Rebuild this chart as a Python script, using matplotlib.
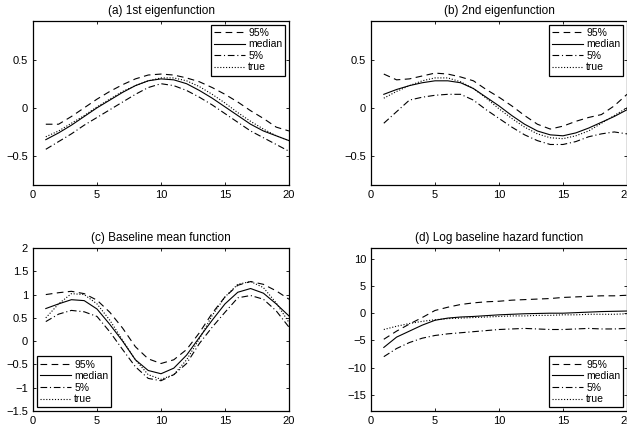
"""Posterior summaries (95%, median, 5%) versus truth for four functions."""

import matplotlib

matplotlib.use("Agg")
import matplotlib.pyplot as plt
import numpy as np
from matplotlib.ticker import FuncFormatter

plt.rcParams["font.family"] = ["Liberation Sans", "DejaVu Sans"]

x = np.arange(1, 21)

# (a) 1st eigenfunction
a_q95 = [-0.17, -0.17, -0.09, 0.00, 0.09, 0.17, 0.24, 0.30, 0.34, 0.35,
         0.34, 0.31, 0.27, 0.21, 0.14, 0.06, -0.03, -0.11, -0.20, -0.24]
a_med = [-0.33, -0.26, -0.18, -0.09, 0.00, 0.08, 0.16, 0.23, 0.28, 0.30,
         0.29, 0.25, 0.18, 0.10, 0.01, -0.08, -0.17, -0.24, -0.29, -0.34]
a_q05 = [-0.43, -0.35, -0.27, -0.18, -0.10, -0.02, 0.06, 0.14, 0.21, 0.25,
         0.23, 0.18, 0.11, 0.03, -0.06, -0.15, -0.24, -0.31, -0.38, -0.45]
a_true = [-0.30, -0.24, -0.16, -0.08, 0.01, 0.09, 0.17, 0.23, 0.28, 0.31,
          0.31, 0.28, 0.22, 0.14, 0.05, -0.05, -0.14, -0.22, -0.29, -0.34]

# (b) 2nd eigenfunction
b_q95 = [0.35, 0.29, 0.30, 0.33, 0.36, 0.35, 0.32, 0.28, 0.19, 0.11,
         0.02, -0.08, -0.17, -0.22, -0.19, -0.14, -0.10, -0.07, 0.02, 0.14]
b_med = [0.14, 0.19, 0.23, 0.26, 0.28, 0.28, 0.26, 0.20, 0.11, 0.02,
         -0.08, -0.17, -0.24, -0.28, -0.29, -0.26, -0.21, -0.15, -0.09, -0.02]
b_q05 = [-0.16, -0.04, 0.08, 0.11, 0.13, 0.14, 0.14, 0.08, -0.02, -0.11,
         -0.20, -0.28, -0.34, -0.38, -0.38, -0.35, -0.30, -0.27, -0.25, -0.27]
b_true = [0.10, 0.17, 0.23, 0.28, 0.31, 0.31, 0.27, 0.20, 0.10, -0.01,
          -0.11, -0.20, -0.27, -0.31, -0.32, -0.29, -0.24, -0.16, -0.08, 0.00]

# (c) Baseline mean function
c_q95 = [1.00, 1.04, 1.07, 1.02, 0.88, 0.62, 0.28, -0.12, -0.38, -0.48,
         -0.40, -0.18, 0.18, 0.60, 0.95, 1.20, 1.28, 1.22, 1.08, 0.90]
c_med = [0.70, 0.80, 0.89, 0.87, 0.69, 0.36, 0.00, -0.40, -0.63, -0.70,
         -0.58, -0.30, 0.08, 0.45, 0.80, 1.05, 1.13, 1.03, 0.80, 0.54]
c_q05 = [0.42, 0.58, 0.66, 0.63, 0.53, 0.20, -0.18, -0.55, -0.80, -0.85,
         -0.72, -0.48, -0.05, 0.30, 0.62, 0.93, 0.98, 0.90, 0.65, 0.30]
c_true = [0.50, 0.80, 1.02, 1.00, 0.80, 0.45, 0.02, -0.40, -0.72, -0.82,
          -0.72, -0.40, 0.05, 0.55, 0.95, 1.22, 1.28, 1.15, 0.82, 0.40]

# (d) Log baseline hazard function
d_q95 = [-4.8, -3.3, -2.0, -0.8, 0.5, 1.1, 1.6, 1.9, 2.1, 2.2,
         2.4, 2.5, 2.6, 2.7, 2.9, 3.0, 3.1, 3.2, 3.2, 3.3]
d_med = [-6.3, -4.4, -3.3, -2.2, -1.3, -0.9, -0.7, -0.6, -0.45, -0.3,
         -0.2, -0.1, -0.05, 0.0, 0.0, 0.1, 0.2, 0.3, 0.35, 0.4]
d_q05 = [-8.0, -6.5, -5.4, -4.6, -4.1, -3.8, -3.6, -3.4, -3.2, -3.0,
         -2.9, -2.8, -2.9, -3.0, -3.0, -2.9, -2.8, -2.9, -2.9, -2.8]
d_true = [-3.0, -2.4, -1.9, -1.5, -1.2, -1.0, -0.9, -0.8, -0.7, -0.6,
          -0.5, -0.5, -0.4, -0.4, -0.3, -0.3, -0.2, -0.2, -0.2, -0.1]

titles = [
    "(a) 1st eigenfunction",
    "(b) 2nd eigenfunction",
    "(c) Baseline mean function",
    "(d) Log baseline hazard function",
]
panels = [
    (a_q95, a_med, a_q05, a_true),
    (b_q95, b_med, b_q05, b_true),
    (c_q95, c_med, c_q05, c_true),
    (d_q95, d_med, d_q05, d_true),
]
ylims = [(-0.8, 0.9), (-0.8, 0.9), (-1.5, 2.0), (-18, 12)]
yticks = [
    [-0.5, 0, 0.5],
    [-0.5, 0, 0.5],
    [-1.5, -1, -0.5, 0, 0.5, 1, 1.5, 2],
    [-15, -10, -5, 0, 5, 10],
]
legend_locs = ["upper right", "upper right", "lower left", "lower right"]
labels = ["95%", "median", "5%", "true"]

W, H = 627, 430
# axes boxes in pixels: left, top, right, bottom
boxes = [
    (33, 21, 289, 185),
    (371, 21, 627, 185),
    (33, 248, 289, 411),
    (371, 248, 627, 411),
]

fig = plt.figure(figsize=(W / 100, H / 100), dpi=100)
fmt = FuncFormatter(lambda v, _: f"{v:g}".replace("-", "\u2212"))

styles = [
    {"ls": (0, (6, 4)), "color": "black"},
    {"ls": "-", "color": "black"},
    {"ls": (0, (6, 2.5, 1, 2.5)), "color": "black"},
    {"ls": (0, (1, 1.6)), "color": "black"},
]

for i in range(4):
    l, t, r, b = boxes[i]
    ax = fig.add_axes([l / W, 1 - b / H, (r - l) / W, (b - t) / H])
    for series, st, lab in zip(panels[i], styles, labels):
        ax.plot(x, series, lw=0.8, label=lab, **st)
    ax.set_xlim(0, 20)
    ax.set_ylim(*ylims[i])
    ax.set_xticks([0, 5, 10, 15, 20])
    ax.set_yticks(yticks[i])
    ax.yaxis.set_major_formatter(fmt)
    ax.tick_params(direction="in", top=True, right=True, length=2,
                   width=0.6, labelsize=8, pad=3.5)
    for sp in ax.spines.values():
        sp.set_linewidth(0.9)
    ax.set_title(titles[i], fontsize=8.5, pad=5)
    leg = ax.legend(loc=legend_locs[i], fontsize=7.5, fancybox=False,
                    framealpha=1, edgecolor="black", handlelength=3.0,
                    handletextpad=0.3, borderpad=0.3, labelspacing=0.15,
                    borderaxespad=0.35)
    leg.get_frame().set_linewidth(0.9)

fig.savefig("out.png", dpi=100)
